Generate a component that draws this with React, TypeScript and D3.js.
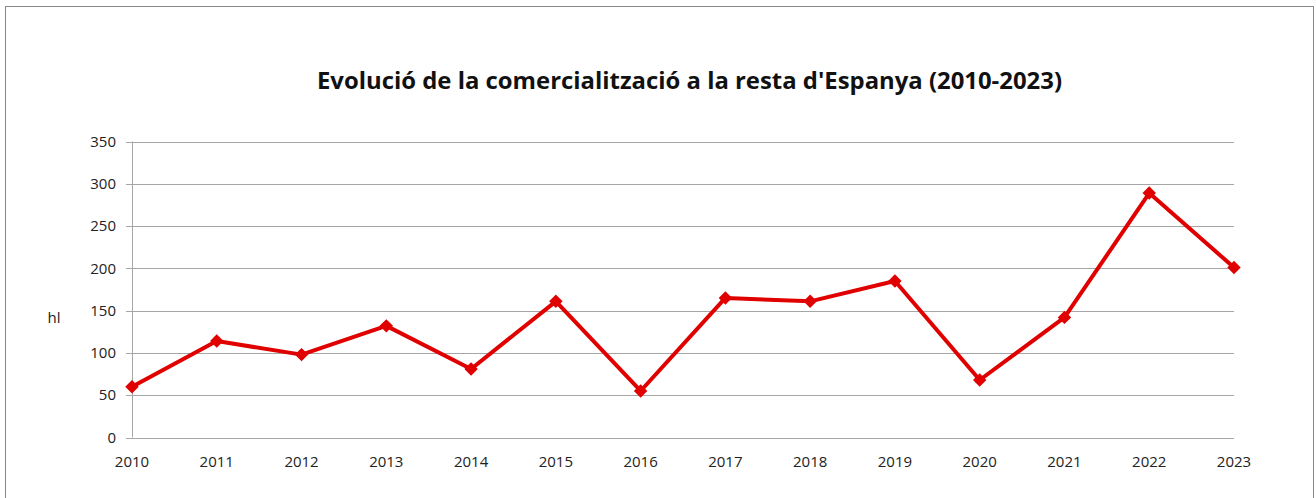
import React from "react";
import * as d3 from "d3";

const years = ["2010","2011","2012","2013","2014","2015","2016","2017","2018","2019","2020","2021","2022","2023"];
const values = [60, 114, 98, 132, 81, 161, 55, 165, 161, 185, 68, 142, 289, 201];
const yTicks = [0, 50, 100, 150, 200, 250, 300, 350];
const title = "Evolució de la comercialització a la resta d'Espanya (2010-2023)";
const yAxisLabel = "hl";

const W = 1316, H = 498;
const left = 132, right = 1234, top = 141.5, bottom = 437.5;

export default function App() {
  const x = d3.scalePoint<string>().domain(years).range([left, right]);
  const y = d3.scaleLinear().domain([0, 350]).range([bottom, top]);
  const line = d3.line<number>().x((_, i) => x(years[i])!).y(d => y(d));
  const diamond = d3.symbol().type(d3.symbolDiamond2).size(115)()!;
  const font = "'Open Sans', sans-serif";
  return (
    <div style={{ position: "absolute", left: 0, top: 0 }}>
      <svg width={W} height={H} style={{ display: "block" }}>
        <rect x={0} y={0} width={W} height={H} fill="#fff" />
        <rect x={5.5} y={6.5} width={1308} height={520} fill="none" stroke="#888" strokeWidth={1} />
        <text x={689.5} y={89} textAnchor="middle" fontFamily={font} fontWeight={700} fontSize={23} textLength={745} lengthAdjust="spacingAndGlyphs" fill="#111">{title}</text>
        {yTicks.map(t => (
          <g key={t}>
            <line x1={left} x2={right} y1={Math.round(y(t)) + 0.5} y2={Math.round(y(t)) + 0.5} stroke="#a6a6a6" strokeWidth={1} />
            <line x1={126} x2={left} y1={Math.round(y(t)) + 0.5} y2={Math.round(y(t)) + 0.5} stroke="#a6a6a6" strokeWidth={1} />
            <text x={116} y={y(t)} dy="0.35em" textAnchor="end" fontFamily={font} fontSize={15} fill="#222">{t}</text>
          </g>
        ))}
        <line x1={left + 0.5} x2={left + 0.5} y1={top} y2={bottom} stroke="#a6a6a6" strokeWidth={1} />
        {years.map(yr => (
          <text key={yr} x={x(yr)} y={462} dy="0.35em" textAnchor="middle" fontFamily={font} fontSize={15} fill="#222">{yr}</text>
        ))}
        <text x={54} y={318} dy="0.35em" textAnchor="middle" fontFamily={font} fontSize={15} fill="#222">{yAxisLabel}</text>
        <path d={line(values)!} fill="none" stroke="#e00000" strokeWidth={4} strokeLinejoin="round" />
        {values.map((v, i) => (
          <path key={i} d={diamond} transform={`translate(${x(years[i])},${y(v)})`} fill="#e00000" />
        ))}
      </svg>
    </div>
  );
}
